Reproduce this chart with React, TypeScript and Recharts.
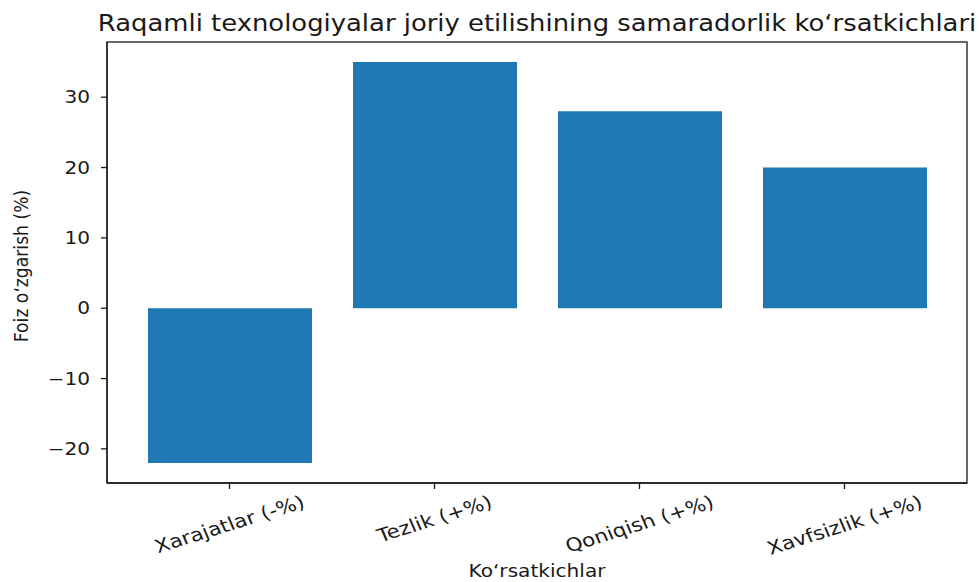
import { BarChart, Bar, XAxis, YAxis } from "recharts";

const categories = ["Xarajatlar (-%)", "Tezlik (+%)", "Qoniqish (+%)", "Xavfsizlik (+%)"];
const changes = [-22, 35, 28, 20];
const yTicks = [-20, -10, 0, 10, 20, 30];

const data = categories.map((name, i) => ({ name, value: changes[i] }));

const W = 979;
const H = 582;
const plotLeft = 107;
const plotRight = 967;
const plotTop = 42;
const plotBottom = 483;
const xAxisH = 60;

// the reference is a bit wider than tall, so text gets stretched sideways
const SX = 1.17;
const FS = 17.2;
const XTICK_FS = 18.4;
const TITLE_FS = 22.1;
const FONT = "DejaVu Sans";
const INK = "#1a1a1a";

let ctx: CanvasRenderingContext2D | null = null;
const measure = (s: string) => {
  if (!ctx) ctx = document.createElement("canvas").getContext("2d");
  if (!ctx) return s.length * XTICK_FS * 0.55;
  ctx.font = `${XTICK_FS}px '${FONT}'`;
  return ctx.measureText(s).width;
};

const fmt = (v: number) => String(v).replace("-", "\u2212");

const XTick = ({ x, payload }: any) => {
  const w = measure(payload.value);
  const a = (20 * Math.PI) / 180;
  const bboxH = w * Math.sin(a) + XTICK_FS * 1.17 * Math.cos(a);
  const cy = plotBottom + 8 + bboxH / 2;
  return (
    <g transform={`translate(${x},${cy}) scale(${SX},1) rotate(-20)`}>
      <text
        x={0}
        y={0}
        textAnchor="middle"
        dominantBaseline="central"
        fontSize={XTICK_FS}
        fontFamily={FONT}
        fill={INK}
      >
        {payload.value}
      </text>
    </g>
  );
};

const YTick = ({ y, payload }: any) => (
  <g transform={`translate(${plotLeft - 17},${y}) scale(${SX},1)`}>
    <text
      x={0}
      y={0}
      textAnchor="end"
      dominantBaseline="central"
      fontSize={FS}
      fontFamily={FONT}
      fill={INK}
    >
      {fmt(payload.value)}
    </text>
  </g>
);

export default function App() {
  return (
    <div style={{ position: "relative", width: W, height: H, background: "#fff" }}>
      <style>{"body{margin:0}"}</style>
      <BarChart
        width={W}
        height={H}
        data={data}
        margin={{ top: plotTop, right: W - plotRight, bottom: H - plotBottom - xAxisH, left: 0 }}
        barSize={164}
      >
        <XAxis
          dataKey="name"
          padding={{ left: 20, right: 20 }}
          axisLine={{ stroke: INK, strokeWidth: 1.3 }}
          tickLine={{ stroke: INK, strokeWidth: 1.3 }}
          tickSize={6}
          tick={<XTick />}
          interval={0}
          height={xAxisH}
        />
        <YAxis
          width={plotLeft}
          domain={[-24.85, 37.85]}
          ticks={yTicks}
          axisLine={{ stroke: INK, strokeWidth: 1.3 }}
          tickLine={{ stroke: INK, strokeWidth: 1.3 }}
          tickSize={6}
          tick={<YTick />}
        />
        <Bar dataKey="value" fill="#1f77b4" isAnimationActive={false} />
      </BarChart>
      <svg
        width={W}
        height={H}
        style={{ position: "absolute", left: 0, top: 0, pointerEvents: "none" }}
      >
        <rect
          x={plotLeft}
          y={plotTop}
          width={plotRight - plotLeft}
          height={plotBottom - plotTop}
          fill="none"
          stroke={INK}
          strokeWidth={1.3}
        />
        <g transform={`translate(${(plotLeft + plotRight) / 2},31) scale(${SX},1)`}>
          <text x={0} y={0} textAnchor="middle" fontSize={TITLE_FS} fontFamily={FONT} fill={INK}>
            Raqamli texnologiyalar joriy etilishining samaradorlik ko‘rsatkichlari
          </text>
        </g>
        <g transform={`translate(21,266) scale(${SX},1) rotate(-90)`}>
          <text
            x={0}
            y={0}
            textAnchor="middle"
            dominantBaseline="central"
            fontSize={FS}
            fontFamily={FONT}
            fill={INK}
          >
            Foiz o‘zgarish (%)
          </text>
        </g>
        <g transform={`translate(${(plotLeft + plotRight) / 2},571) scale(${SX},1)`}>
          <text
            x={0}
            y={0}
            textAnchor="middle"
            dominantBaseline="central"
            fontSize={FS}
            fontFamily={FONT}
            fill={INK}
          >
            Ko‘rsatkichlar
          </text>
        </g>
      </svg>
    </div>
  );
}
